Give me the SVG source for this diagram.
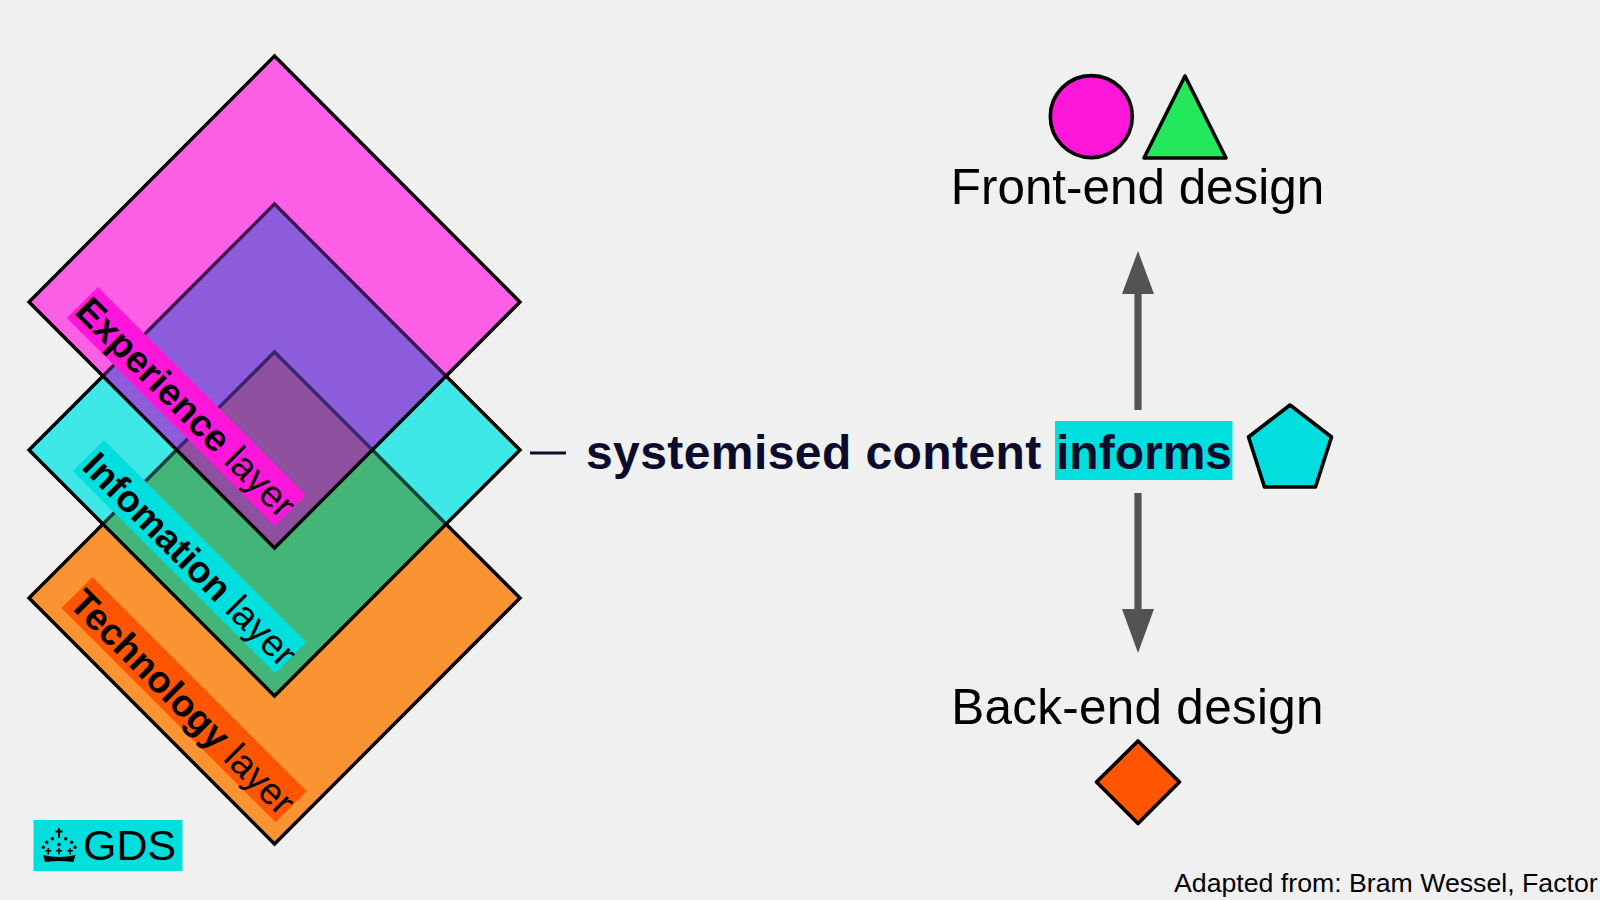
<svg xmlns="http://www.w3.org/2000/svg" width="1600" height="900" viewBox="0 0 1600 900">
<style>
text{font-family:"Liberation Sans",Arial,sans-serif;fill:#000}
.b{font-weight:700}
.layer{font-size:37.6px}
.head{font-size:49.4px;text-anchor:middle}
.main{font-size:48px;font-weight:700;fill:#0b0c2c}
.edge{fill:none;stroke:#000;stroke-width:3.4;stroke-linejoin:miter}
.shape{stroke:#000;stroke-width:3.6;stroke-linejoin:round}
.arrow{fill:#535353}
</style>
<rect width="1600" height="900" fill="#f0f0f0"/>
<g id="layer-technology">
<polygon points="274.500,352 29,598 274.500,844 520,598" fill="#fa9433"/>
</g>
<g id="layer-information">
<polygon points="274.500,204 29,450 274.500,696 520,450" fill="#3de8e7"/>
<polygon points="274.500,352 103,524 274.500,696 446,524" fill="#44b578"/>
</g>
<g id="layer-experience">
<polygon points="274.500,56 29,302 274.500,548 520,302" fill="#fa5fe6"/>
<polygon points="274.500,204 103,376 274.500,548 446,376" fill="#8c5cdc"/>
<polygon points="274.500,352 176.500,450 274.500,548 372.500,450" fill="#8e4f9f"/>
</g>
<g id="layer-edges">
<polyline class="edge" points="103,524 29,598 274.500,844 520,598 446,524"/>
<polyline class="edge" style="stroke:#123f3c" points="103,524 176.500,450"/>
<polyline class="edge" style="stroke:#123f3c" points="372.500,450 446,524"/>
<polyline class="edge" style="stroke:#3a2470" points="176.500,450 274.500,352 372.500,450"/>
<polyline class="edge" points="103,376 29,450 274.500,696 520,450 446,376"/>
<polyline class="edge" style="stroke:#3d1650" points="103,376 274.500,204 446,376"/>
<polygon class="edge" points="274.500,56 29,302 274.500,548 520,302"/>
</g>
<g id="label-experience">
<rect x="0" y="0" width="294" height="44" fill="#ff17d9" transform="translate(98,287) rotate(45)"/>
<text class="layer" transform="translate(73.500,313) rotate(45)"><tspan class="b">Experience</tspan> layer</text>
</g>
<g id="label-information">
<rect x="0" y="0" width="286" height="44" fill="#00dedd" transform="translate(104,440) rotate(45)"/>
<text class="layer" transform="translate(80.500,468) rotate(45)"><tspan class="b">Infomation</tspan> layer</text>
</g>
<g id="label-technology">
<rect x="0" y="0" width="303" height="44" fill="#ff5500" transform="translate(92.500,577) rotate(45)"/>
<text class="layer" transform="translate(67.500,605) rotate(45)"><tspan class="b">Technology</tspan> layer</text>
</g>
<g id="connectors">
<line x1="530" y1="453" x2="566" y2="453" stroke="#0b0c2c" stroke-width="3"/>
<polygon class="arrow" points="1138,251 1154,294 1141.600,294 1141.600,410 1134.400,410 1134.400,294 1122,294"/>
<polygon class="arrow" points="1138,653 1154,609 1141.600,609 1141.600,493 1134.400,493 1134.400,609 1122,609"/>
</g>
<g id="node-systemised">
<rect x="1055" y="421" width="177.500" height="59" fill="#00dedd"/>
<text class="main" x="586" y="468.500" style="letter-spacing:.42px">systemised content</text>
<text class="main" x="1056" y="468.500">informs</text>
</g>
<g id="node-pentagon">
<polygon class="shape" fill="#00dedd" points="1290,405 1331.500,437 1315.500,487 1264.500,487 1248.500,437"/>
</g>
<g id="node-frontend">
<circle class="shape" cx="1091.300" cy="116.600" r="41" fill="#ff17d9"/>
<polygon class="shape" fill="#24e85c" points="1185,76 1226,158 1144,158"/>
<text class="head" x="1137.500" y="204">Front-end design</text>
</g>
<g id="node-backend">
<text class="head" x="1137.500" y="724" style="letter-spacing:.3px">Back-end design</text>
<polygon class="shape" fill="#ff5500" points="1138,741 1179.500,782 1138,823.500 1096.500,782"/>
</g>
<g id="node-gds">
<rect x="33.500" y="820" width="149" height="51" fill="#00dedd"/>
<g id="crown" fill="#000">
<path d="M58 828h2v2.500h2.500v2H60v5.500h-2v-5.500h-2.500v-2H58z"/>
<circle cx="43.300" cy="847.300" r="1.700"/><circle cx="46.700" cy="842.300" r="1.700"/><circle cx="52.300" cy="838.800" r="1.700"/>
<circle cx="65.700" cy="838.800" r="1.700"/><circle cx="71.700" cy="842.300" r="1.700"/><circle cx="75" cy="847.300" r="1.700"/>
<circle cx="59" cy="844.500" r="1.700"/>
<path d="M47.500 848h1.600v2h2v1.500h-2v3h-1.600v-3h-2v-1.500h2zM58.200 848h1.600v2h2v1.500h-2v3h-1.600v-3h-2v-1.500h2zM69.200 848h1.600v2h2v1.500h-2v3h-1.600v-3h-2v-1.500h2z"/>
<path d="M43 855Q59 859 75.500 855L73.500 862Q59 859.800 45 862Z"/>
</g>
<text x="83" y="859.500" style="font-size:43px">GDS</text>
</g>
<g id="credit">
<text x="1174" y="892" style="font-size:26.700px">Adapted from: Bram Wessel, Factor</text>
</g>
</svg>
